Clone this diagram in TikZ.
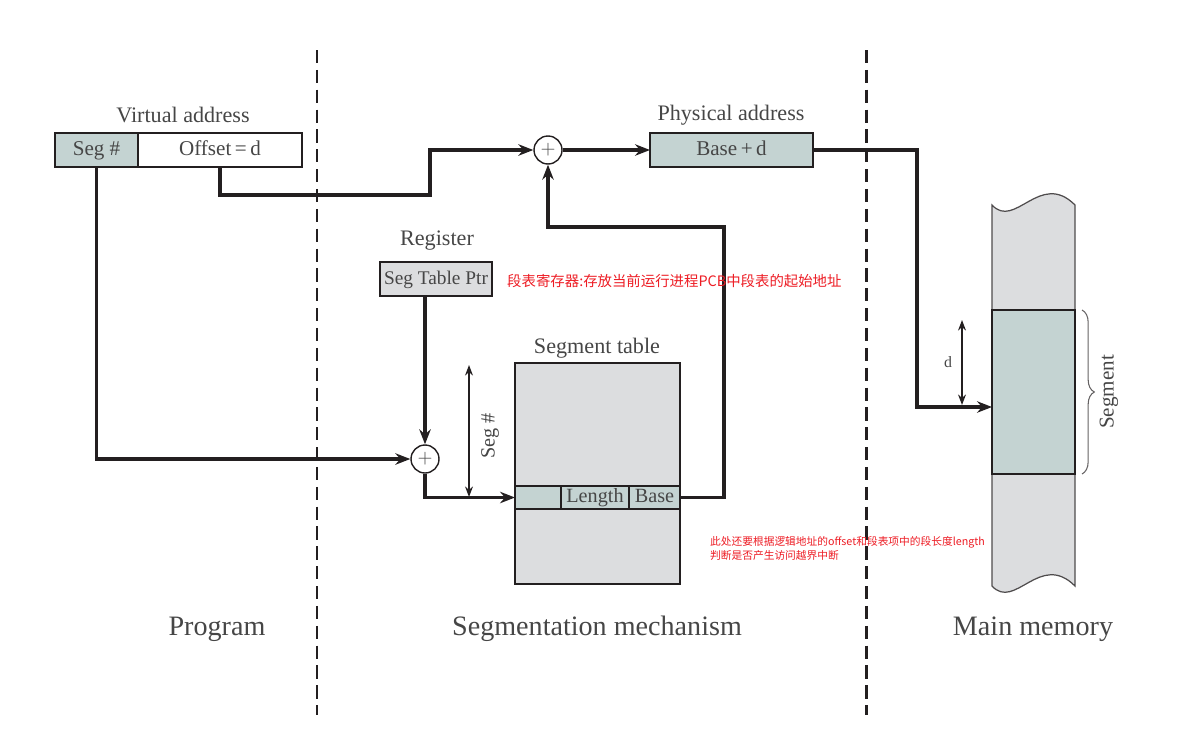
\documentclass[tikz,border=0pt]{standalone}
\usepackage{fontspec}
\setmainfont{Liberation Serif}
\newfontfamily\cjk{Noto Sans CJK SC}
\usepackage{tikz}
\usetikzlibrary{calc}
\usetikzlibrary{arrows.meta}
\usetikzlibrary{positioning}
\usetikzlibrary{decorations.pathreplacing}
\definecolor{segteal}{RGB}{196,211,210}
\definecolor{tablegray}{RGB}{220,221,223}
\definecolor{linecol}{RGB}{35,31,32}
\definecolor{txtgray}{RGB}{70,70,70}
\definecolor{notered}{RGB}{237,28,36}
\tikzset{>={Stealth[length=8.5pt,width=6.5pt]}}
\tikzset{
  cell/.style = {rectangle, draw=linecol, line width=0.9pt, outer sep=0pt, inner sep=0pt,
                 text=txtgray, font=\fontsize{12}{14}\selectfont, minimum height=0.68cm,
                 text height=0.75em, text depth=0.15em},
  tealcell/.style = {cell, fill=segteal},
  graycell/.style = {cell, fill=tablegray},
  adder/.style = {circle, draw=linecol, line width=0.8pt, fill=white, minimum size=0.56cm,
                  inner sep=0pt, text=txtgray, font=\fontsize{11}{12}\selectfont},
  lbl/.style = {text=txtgray, font=\fontsize{12.6}{14}\selectfont},
  region/.style = {text=txtgray, font=\fontsize{16}{18}\selectfont},
  conn/.style = {draw=linecol, line width=2.1pt},
  dim/.style = {draw=linecol, line width=0.8pt, {Stealth[length=6pt,width=4.5pt]}-{Stealth[length=6pt,width=4.5pt]}},
  divider/.style = {draw=linecol, line width=1.7pt, dash pattern=on 7.5pt off 3.8pt},
  note/.style = {text=notered, font=\cjk\fontsize{8.2}{10}\selectfont},
  smallnote/.style = {text=notered, font=\cjk\fontsize{6.1}{7.9}\selectfont, align=left}
}

\begin{document}
\begin{tikzpicture}[x=0.02cm, y=-0.02cm]
\useasboundingbox (0,0) rectangle (1199,731);
% region dividers
\draw [divider] (317,50) -- (317,715);
\draw [divider] (866,50) -- (866,715);

% virtual address
\node [lbl] (vlabel) at (183,115) {Virtual address};
\node [tealcell, minimum width=1.66cm] (segno) at (96.5,150) {Seg \#};
\node [cell, fill=white, minimum width=3.28cm, right=0pt of segno] (offset) {Offset\,=\,d};

% adders
\node [adder] (add1) at (548,150) {$+$};
\node [adder] (add2) at (425,459) {$+$};

% physical address
\node [lbl] (plabel) at (731,115) {Physical address};
\node [tealcell, minimum width=3.26cm] (phys) at (731.5,150) {Base\,+\,d};

% register
\node [lbl] (rlabel) at (437,241) {Register};
\node [graycell, minimum width=2.24cm, font=\fontsize{11}{13}\selectfont] (stp) at (436,279) {Seg Table Ptr};

% segment table
\node [lbl] (tlabel) at (597,348) {Segment table};
\node [graycell, minimum width=3.3cm, minimum height=4.42cm] (stab) at (597.5,473.5) {};
\node [tealcell, minimum width=0.92cm, minimum height=0.46cm] (rowblank) at (538,497.5) {};
\node [tealcell, minimum width=1.36cm, minimum height=0.46cm, right=0pt of rowblank,
       font=\fontsize{11.5}{13}\selectfont] (rowlen) {Length};
\node [tealcell, minimum width=1.02cm, minimum height=0.46cm, right=0pt of rowlen,
       font=\fontsize{11.5}{13}\selectfont] (rowbase) {Base};

% main memory
\filldraw [fill=tablegray, draw=linecol!80, line width=0.7pt]
  (992,205) .. controls (1015,230) and (1040,170) .. (1075,205) -- (1075,586)
  .. controls (1040,551) and (1015,611) .. (992,586) -- cycle;
\node [tealcell, minimum width=1.66cm, minimum height=3.28cm] (segment) at (1033.5,392) {};
\draw [decorate, decoration={brace, amplitude=7pt}, draw=linecol!70, line width=0.6pt]
  (1082,310) -- (1082,474);
\node [lbl, rotate=90, font=\fontsize{12}{14}\selectfont] (seglabel) at (1109,392) {Segment};

% turning points
\coordinate (oturn) at (430,195);
\coordinate (mturn) at (917,407);
\coordinate (bturn) at (724,227);

% connectors
\draw [conn, ->] (segno.south) |- (add2);
\draw [conn, ->] (offset.south) |- (oturn) |- (add1);
\draw [conn, ->] (add1) -- (phys);
\draw [conn, ->] (phys.east) -| (mturn) -- (mturn -| segment.west);
\draw [conn, ->] (stp.south -| add2) -- (add2);
\draw [conn, ->] (add2) |- (rowblank.west);
\draw [conn, ->] (rowbase.east) -| (bturn) -| (add1);

% offsets
\coordinate (segtop) at (469,365);
\coordinate (segbot) at (469,497);
\draw [dim] (segtop) -- (segbot);
\node [lbl, rotate=90, font=\fontsize{11.5}{13}\selectfont] (seglbl) at (490,436) {Seg \#};
\coordinate (dtop) at (962,320);
\coordinate (dbot) at (962,405);
\draw [dim] (dtop) -- (dbot);
\node [lbl, font=\fontsize{9}{10}\selectfont] (dlbl) at (948,362) {d};

% notes
\node [note, anchor=west] (regnote) at (501,281) {段表寄存器:存放当前运行进程PCB中段表的起始地址};
\node [smallnote, anchor=north west] (boundnote) at (704,530)
  {此处还要根据逻辑地址的offset和段表项中的段长度length\\判断是否产生访问越界中断};

% regions
\node [region] (prog) at (217,629) {Program};
\node [region] (mech) at (597,629) {Segmentation mechanism};
\node [region] (mem) at (1033,629) {Main memory};
\end{tikzpicture}
\end{document}
